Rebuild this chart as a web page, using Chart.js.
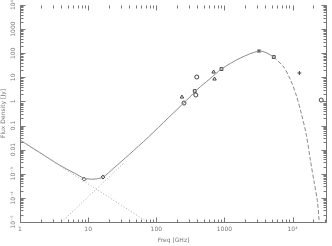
<!DOCTYPE html>
<html><head><meta charset="utf-8">
<style>html,body{margin:0;padding:0;background:#fff}#wrap{width:332px;height:246px}</style>
<script src="https://cdn.jsdelivr.net/npm/chart.js@4.4.1/dist/chart.umd.min.js"></script>
</head><body><div id="wrap"><canvas id="c" width="332" height="246"></canvas></div>
<script>
// ---- data ----
const obsFreq = [8.75, 16.5, 238, 255, 367, 380, 393, 693, 716, 905, 3215, 5300, 12600, 26300];
const obsFlux = [6.0e-4, 7.3e-4, 1.52, 0.86, 2.7, 1.85, 10.3, 16.6, 8.5, 22, 123, 69.5, 15.1, 1.14];

const modelFreq = [1, 1.95, 3.8, 6.27, 8.75, 12.2, 16.5, 23.8, 39.3, 76.6, 149, 291, 406, 607, 905, 1706, 3215, 4200, 5300];
const modelFlux = [0.025, 7.6e-3, 2.3e-3, 1.07e-3, 6.6e-4, 6.0e-4, 7.3e-4, 1.73e-3, 6.0e-3, 0.0333, 0.205, 1.26, 3.27, 8.5, 22, 63, 123, 102, 69.5];

const tailFreq = [5300, 7410, 9350, 11430, 13500, 15950, 18240, 20840, 23030, 24600];
const tailFlux = [69.5, 26.7, 7.7, 1.67, 0.30, 0.040, 3.7e-3, 4.1e-4, 8.1e-5, 1.0e-5];

const syncFreq = [1, 74];
const syncFlux = [0.025, 1.0e-5];

const dustFreq = [4.06, 33];
const dustFlux = [1.0e-5, 2.7e-3];

const xTickValues = [1, 10, 100, 1000, 10000];
const xTickLabels = ['1', '10', '100', '1000', '10\u2074'];
const yTickValues = [1e-5, 1e-4, 1e-3, 0.01, 0.1, 1, 10, 100, 1000, 1e4];
const yTickLabels = ['10\u207B\u2075', '10\u207B\u2074', '10\u207B\u00B3', '0.01', '0.1', '1', '10', '100', '1000', '10\u2074'];

const xTitle = 'Freq [GHz]';
const yTitle = 'Flux Density [Jy]';

// ---- presentation ----
const markerStyles = ['rectRot','rectRot','triangle','circle','rect','circle','circle','triangle','triangle','rect','star','rect','cross','circle'];
const pts = (xs, ys) => xs.map((v, i) => ({x: v, y: ys[i]}));
const FONT = '6px "DejaVu Sans"';
const TXT = '#777';

const frame = {
  id: 'frame',
  afterDraw(chart) {
    const {ctx, chartArea: a, scales: {x, y}} = chart;
    ctx.save();
    ctx.strokeStyle = '#777';
    ctx.lineWidth = 1;
    const L = a.left + 0.5, R = a.right - 0.5, B = a.bottom + 0.5, T = a.top + 0.5;
    const seg = (x1, y1, x2, y2) => { ctx.beginPath(); ctx.moveTo(x1, y1); ctx.lineTo(x2, y2); ctx.stroke(); };
    seg(L, T, L, B); seg(L, B, R, B); seg(R, T, R, B);
    // x ticks
    for (let e = 0; e <= 4; e++) for (let m = 1; m < 10; m++) {
      const v = m * Math.pow(10, e);
      if (v > x.max) break;
      const px = Math.round(x.getPixelForValue(v)) + 0.5;
      const len = m === 1 ? 5 : 3;
      seg(px, B, px, B - len);
      seg(px, T, px, T + len);
    }
    // y ticks
    for (let e = -5; e <= 4; e++) for (let m = 1; m < 10; m++) {
      const v = m * Math.pow(10, e);
      if (v > y.max) break;
      const py = Math.round(y.getPixelForValue(v)) + 0.5;
      const len = m === 1 ? 5 : 3;
      seg(L, py, L + len, py);
      seg(R, py, R - len, py);
    }
    ctx.fillStyle = TXT;
    ctx.font = FONT;
    ctx.textAlign = 'center';
    ctx.textBaseline = 'top';
    xTickValues.forEach((v, i) => ctx.fillText(xTickLabels[i], x.getPixelForValue(v), a.bottom + 4));
    ctx.fillText(xTitle, (a.left + a.right) / 2, a.bottom + 15);
    ctx.textBaseline = 'middle';
    yTickValues.forEach((v, i) => {
      ctx.save();
      ctx.translate(a.left - 7, y.getPixelForValue(v));
      ctx.rotate(-Math.PI / 2);
      ctx.fillText(yTickLabels[i], 0, 0);
      ctx.restore();
    });
    ctx.save();
    ctx.translate(3.5, (a.top + a.bottom) / 2);
    ctx.rotate(-Math.PI / 2);
    ctx.fillText(yTitle, 0, 0);
    ctx.restore();
    ctx.restore();
  }
};

new Chart(document.getElementById('c'), {
  type: 'scatter',
  data: {
    datasets: [
      {data: pts(syncFreq, syncFlux), showLine: true, pointRadius: 0, borderColor: '#aaa', borderWidth: 1, borderDash: [1, 2]},
      {data: pts(dustFreq, dustFlux), showLine: true, pointRadius: 0, borderColor: '#aaa', borderWidth: 1, borderDash: [1, 2]},
      {data: pts(modelFreq, modelFlux), showLine: true, pointRadius: 0, borderColor: '#8a8a8a', borderWidth: 1, tension: 0.3},
      {data: pts(tailFreq, tailFlux), showLine: true, pointRadius: 0, borderColor: '#8a8a8a', borderWidth: 1, borderDash: [4, 2], tension: 0.3},
      {data: pts(obsFreq, obsFlux), showLine: false, pointStyle: markerStyles, pointRadius: 2, borderColor: '#444', backgroundColor: 'rgba(0,0,0,0)', borderWidth: 1}
    ]
  },
  options: {
    responsive: false,
    animation: false,
    devicePixelRatio: 1,
    layout: {padding: {top: 5, right: 1, left: 0, bottom: 0}},
    plugins: {legend: {display: false}, tooltip: {enabled: false}},
    scales: {
      x: {type: 'logarithmic', min: 1, max: 32000, ticks: {display: false}, grid: {display: false}, border: {display: false},
          afterFit: s => { s.height = 24; }},
      y: {type: 'logarithmic', min: 1e-5, max: 1e4, ticks: {display: false}, grid: {display: false}, border: {display: false},
          afterFit: s => { s.width = 20; }}
    }
  },
  plugins: [frame]
});
</script></body></html>
